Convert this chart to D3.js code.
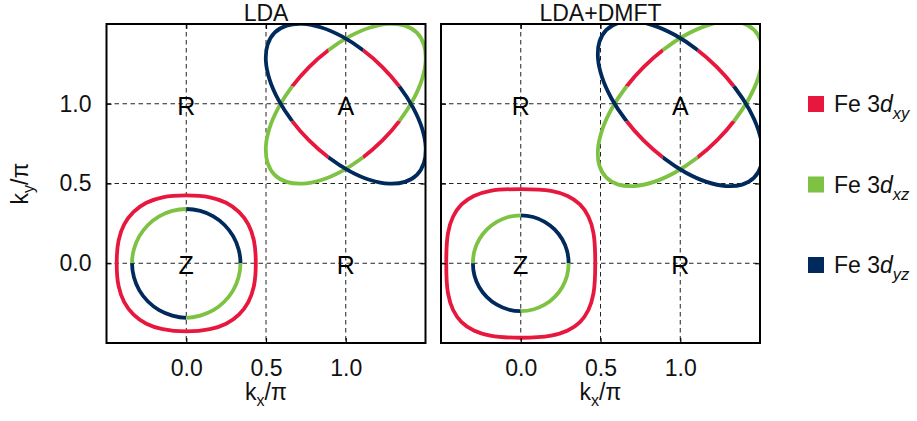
<!DOCTYPE html>
<html>
<head>
<meta charset="utf-8">
<script src="https://cdn.jsdelivr.net/npm/d3@7"></script>
<style>
  html, body { margin: 0; padding: 0; background: #fff; }
  svg { display: block; font-family: "Liberation Sans", Arial, Helvetica, sans-serif; }
</style>
</head>
<body>
<svg id="chart" width="917" height="421"></svg>
<script>
// ---------------- data ----------------
const panelTitles = ["LDA", "LDA+DMFT"];
const orbitals = ["xy", "xz", "yz"];
const orbitalColors = ["#e8173d", "#7dc242", "#002a5c"];
const axisTicks = [0.0, 0.5, 1.0];
const axisDomain = [-0.5, 1.5];

// high-symmetry point labels (k-space coordinates, units of pi)
const symNames = ["R", "A", "Z", "R"];
const symKx = [0, 1, 0, 1];
const symKy = [1, 1, 0, 0];

// pocket centres
const zCenter = [0, 0];
const aCenter = [1, 1];

// Fermi-surface contours, offsets [dkx, dky] from the pocket centre
const ldaZOuter = [[.436,0],[.424,.144],[.389,.244],[.330,.322],[.250,.379],[.148,.413],[0,.425],[-.148,.413],[-.250,.379],[-.330,.322],[-.389,.244],[-.424,.144],[-.436,0],[-.424,-.144],[-.389,-.244],[-.330,-.322],[-.250,-.379],[-.148,-.413],[0,-.427],[.148,-.413],[.250,-.379],[.330,-.322],[.389,-.244],[.424,-.144]];
const ldaZInner = [[.34,0],[.328,.088],[.294,.17],[.240,.240],[.17,.294],[.088,.328],[0,.34],[-.088,.328],[-.17,.294],[-.240,.240],[-.294,.17],[-.328,.088],[-.34,0],[-.328,-.088],[-.294,-.17],[-.240,-.240],[-.17,-.294],[-.088,-.328],[0,-.342],[.088,-.328],[.17,-.294],[.240,-.240],[.294,-.17],[.328,-.088]];
const ldaAYz = [[.446,-.446],[.490,-.371],[.501,-.271],[.478,-.153],[.422,-.024],[.337,.107],[.230,.230],[.107,.337],[-.024,.422],[-.153,.478],[-.271,.501],[-.371,.490],[-.446,.446],[-.490,.371],[-.501,.271],[-.478,.153],[-.422,.024],[-.337,-.107],[-.230,-.230],[-.107,-.337],[.024,-.422],[.153,-.478],[.271,-.501],[.371,-.490]];
const ldaAXz = [[-.446,-.446],[-.490,-.371],[-.501,-.271],[-.478,-.153],[-.422,-.024],[-.337,.107],[-.230,.230],[-.107,.337],[.024,.422],[.153,.478],[.271,.501],[.371,.490],[.446,.446],[.490,.371],[.501,.271],[.478,.153],[.422,.024],[.337,-.107],[.230,-.230],[.107,-.337],[-.024,-.422],[-.153,-.478],[-.271,-.501],[-.371,-.490]];

const dmftZOuter = [[.467,0],[.456,.189],[.424,.293],[.371,.369],[.294,.422],[.190,.454],[0,.465],[-.190,.454],[-.294,.422],[-.371,.369],[-.424,.293],[-.456,.189],[-.467,0],[-.456,-.189],[-.424,-.293],[-.371,-.369],[-.294,-.422],[-.190,-.454],[0,-.467],[.190,-.454],[.294,-.422],[.371,-.369],[.424,-.293],[.456,-.189]];
const dmftZInner = [[.30,0],[.290,.078],[.260,.15],[.212,.212],[.15,.260],[.078,.290],[0,.30],[-.078,.290],[-.15,.260],[-.212,.212],[-.260,.15],[-.290,.078],[-.30,0],[-.290,-.078],[-.260,-.15],[-.212,-.212],[-.15,-.260],[-.078,-.290],[0,-.30],[.078,-.290],[.15,-.260],[.212,-.212],[.260,-.15],[.290,-.078]];
const dmftAYz = [[.463,-.463],[.507,-.388],[.516,-.286],[.490,-.165],[.431,-.033],[.342,.102],[.230,.230],[.102,.342],[-.033,.431],[-.165,.490],[-.286,.516],[-.388,.507],[-.463,.463],[-.507,.388],[-.516,.286],[-.490,.165],[-.431,.033],[-.342,-.102],[-.230,-.230],[-.102,-.342],[.033,-.431],[.165,-.490],[.286,-.516],[.388,-.507]];
const dmftAXz = [[-.463,-.463],[-.507,-.388],[-.516,-.286],[-.490,-.165],[-.431,-.033],[-.342,.102],[-.230,.230],[-.102,.342],[.033,.431],[.165,.490],[.286,.516],[.388,.507],[.463,.463],[.507,.388],[.516,.286],[.490,.165],[.431,.033],[.342,-.102],[.230,-.230],[.102,-.342],[-.033,-.431],[-.165,-.490],[-.286,-.516],[-.388,-.507]];

// orbital character along each contour: [orbital, fromAngle, toAngle] (polar angle, degrees)
const zOuterCharacter = [["xy", 0, 360]];
const zInnerCharacter = [["yz", 0, 90], ["xz", 90, 180], ["yz", 180, 270], ["xz", 270, 360]];
const aYzCharacter = [["xy", 18, 72], ["yz", 72, 198], ["xy", 198, 252], ["yz", 252, 378]];
const aXzCharacter = [["xz", -18, 108], ["xy", 108, 162], ["xz", 162, 288], ["xy", 288, 342]];

const panelContours = [
  [[ldaZOuter, zCenter, zOuterCharacter], [ldaZInner, zCenter, zInnerCharacter], [ldaAXz, aCenter, aXzCharacter], [ldaAYz, aCenter, aYzCharacter]],
  [[dmftZOuter, zCenter, zOuterCharacter], [dmftZInner, zCenter, zInnerCharacter], [dmftAXz, aCenter, aXzCharacter], [dmftAYz, aCenter, aYzCharacter]]
];

// ---------------- drawing ----------------
const svg = d3.select("#chart");
const FONT = 23;
const plotSize = 319;
const plotTop = 24;
const panelLeft = [106.5, 441];
const color = d3.scaleOrdinal().domain(orbitals).range(orbitalColors);
const defs = svg.append("defs");
let clipId = 0;

panelTitles.forEach((title, p) => {
  const g = svg.append("g").attr("transform", `translate(${panelLeft[p]},${plotTop})`);
  const x = d3.scaleLinear().domain(axisDomain).range([0, plotSize]);
  const y = d3.scaleLinear().domain(axisDomain).range([plotSize, 0]);

  const plotClip = "plotclip" + p;
  defs.append("clipPath").attr("id", plotClip)
    .append("rect").attr("x", 0).attr("y", 0).attr("width", plotSize).attr("height", plotSize);

  // grid
  const grid = g.append("g").attr("stroke", "#222").attr("stroke-width", 1)
    .attr("stroke-dasharray", "4.5,3.5").attr("fill", "none");
  axisTicks.forEach(t => {
    grid.append("line").attr("x1", x(t)).attr("x2", x(t)).attr("y1", 0).attr("y2", plotSize);
    grid.append("line").attr("y1", y(t)).attr("y2", y(t)).attr("x1", 0).attr("x2", plotSize);
  });

  // contours
  const cg = g.append("g").attr("clip-path", `url(#${plotClip})`);
  panelContours[p].forEach(([pts, center, character]) => {
    const line = d3.line()
      .x(d => x(center[0] + d[0]))
      .y(d => y(center[1] + d[1]))
      .curve(d3.curveCatmullRomClosed.alpha(0.5));
    const dPath = line(pts);
    const cx = x(center[0]), cy = y(center[1]);
    character.forEach(([orb, a0, a1]) => {
      const path = cg.append("path").attr("d", dPath)
        .attr("fill", "none").attr("stroke", color(orb))
        .attr("stroke-width", 3.8);
      if (a1 - a0 < 360) {
        const id = "wedge" + (clipId++);
        const arc = d3.arc().innerRadius(0).outerRadius(400)
          .startAngle((90 - a1) * Math.PI / 180)
          .endAngle((90 - a0) * Math.PI / 180);
        defs.append("clipPath").attr("id", id)
          .append("path").attr("d", arc()).attr("transform", `translate(${cx},${cy})`);
        path.attr("clip-path", `url(#${id})`);
      }
    });
  });

  // symmetry point labels
  symNames.forEach((name, i) => {
    g.append("text").attr("x", x(symKx[i])).attr("y", y(symKy[i]) + 11)
      .attr("text-anchor", "middle").attr("font-size", 25).attr("fill", "#000")
      .text(name);
  });

  // axes
  const fmt = d3.format(".1f");
  const bottom = g.append("g").attr("transform", `translate(0,${plotSize})`)
    .call(d3.axisBottom(x).tickValues(axisTicks).tickSizeInner(-5).tickSizeOuter(0).tickPadding(17).tickFormat(fmt));
  const top = g.append("g")
    .call(d3.axisTop(x).tickValues(axisTicks).tickSizeInner(-5).tickSizeOuter(0).tickFormat(""));
  const right = g.append("g").attr("transform", `translate(${plotSize},0)`)
    .call(d3.axisRight(y).tickValues(axisTicks).tickSizeInner(-5).tickSizeOuter(0).tickFormat(""));
  const left = g.append("g")
    .call(d3.axisLeft(y).tickValues(axisTicks).tickSizeInner(-5).tickSizeOuter(0).tickPadding(15)
      .tickFormat(p === 0 ? fmt : ""));
  [bottom, top, right, left].forEach(a => {
    a.select(".domain").remove();
    a.attr("font-family", null).attr("font-size", FONT);
    a.selectAll(".tick line").attr("stroke", "#000").attr("stroke-width", 1.2);
    a.selectAll(".tick text").attr("fill", "#111");
  });

  // frame
  g.append("rect").attr("x", 0).attr("y", 0).attr("width", plotSize).attr("height", plotSize)
    .attr("fill", "none").attr("stroke", "#000").attr("stroke-width", 2);

  // title
  g.append("text").attr("x", plotSize / 2).attr("y", -3).attr("text-anchor", "middle")
    .attr("font-size", FONT).attr("fill", "#111").text(title);

  // x label
  const xl = g.append("text").attr("x", plotSize / 2).attr("y", plotSize + 57)
    .attr("text-anchor", "middle").attr("font-size", FONT).attr("fill", "#111");
  xl.append("tspan").text("k");
  xl.append("tspan").attr("font-size", 16).attr("dy", 6).text("x");
  xl.append("tspan").attr("dy", -6).text("/π");
});

// y label
const yl = svg.append("text").attr("transform", "translate(28,183.5) rotate(-90)")
  .attr("text-anchor", "middle").attr("font-size", FONT).attr("fill", "#111");
yl.append("tspan").text("k");
yl.append("tspan").attr("font-size", 16).attr("dy", 6).text("y");
yl.append("tspan").attr("dy", -6).text("/π");

// legend
const legend = svg.append("g");
orbitals.forEach((orb, i) => {
  const yy = 96 + 80.5 * i;
  legend.append("rect").attr("x", 808).attr("y", yy).attr("width", 16).attr("height", 16)
    .attr("fill", color(orb));
  const t = legend.append("text").attr("x", 834).attr("y", yy + 16)
    .attr("font-size", FONT).attr("fill", "#111");
  t.append("tspan").text("Fe 3");
  t.append("tspan").attr("font-style", "italic").text("d");
  t.append("tspan").attr("font-style", "italic").attr("font-size", 16.5).attr("dy", 7).text(orb);
});
</script>
</body>
</html>
